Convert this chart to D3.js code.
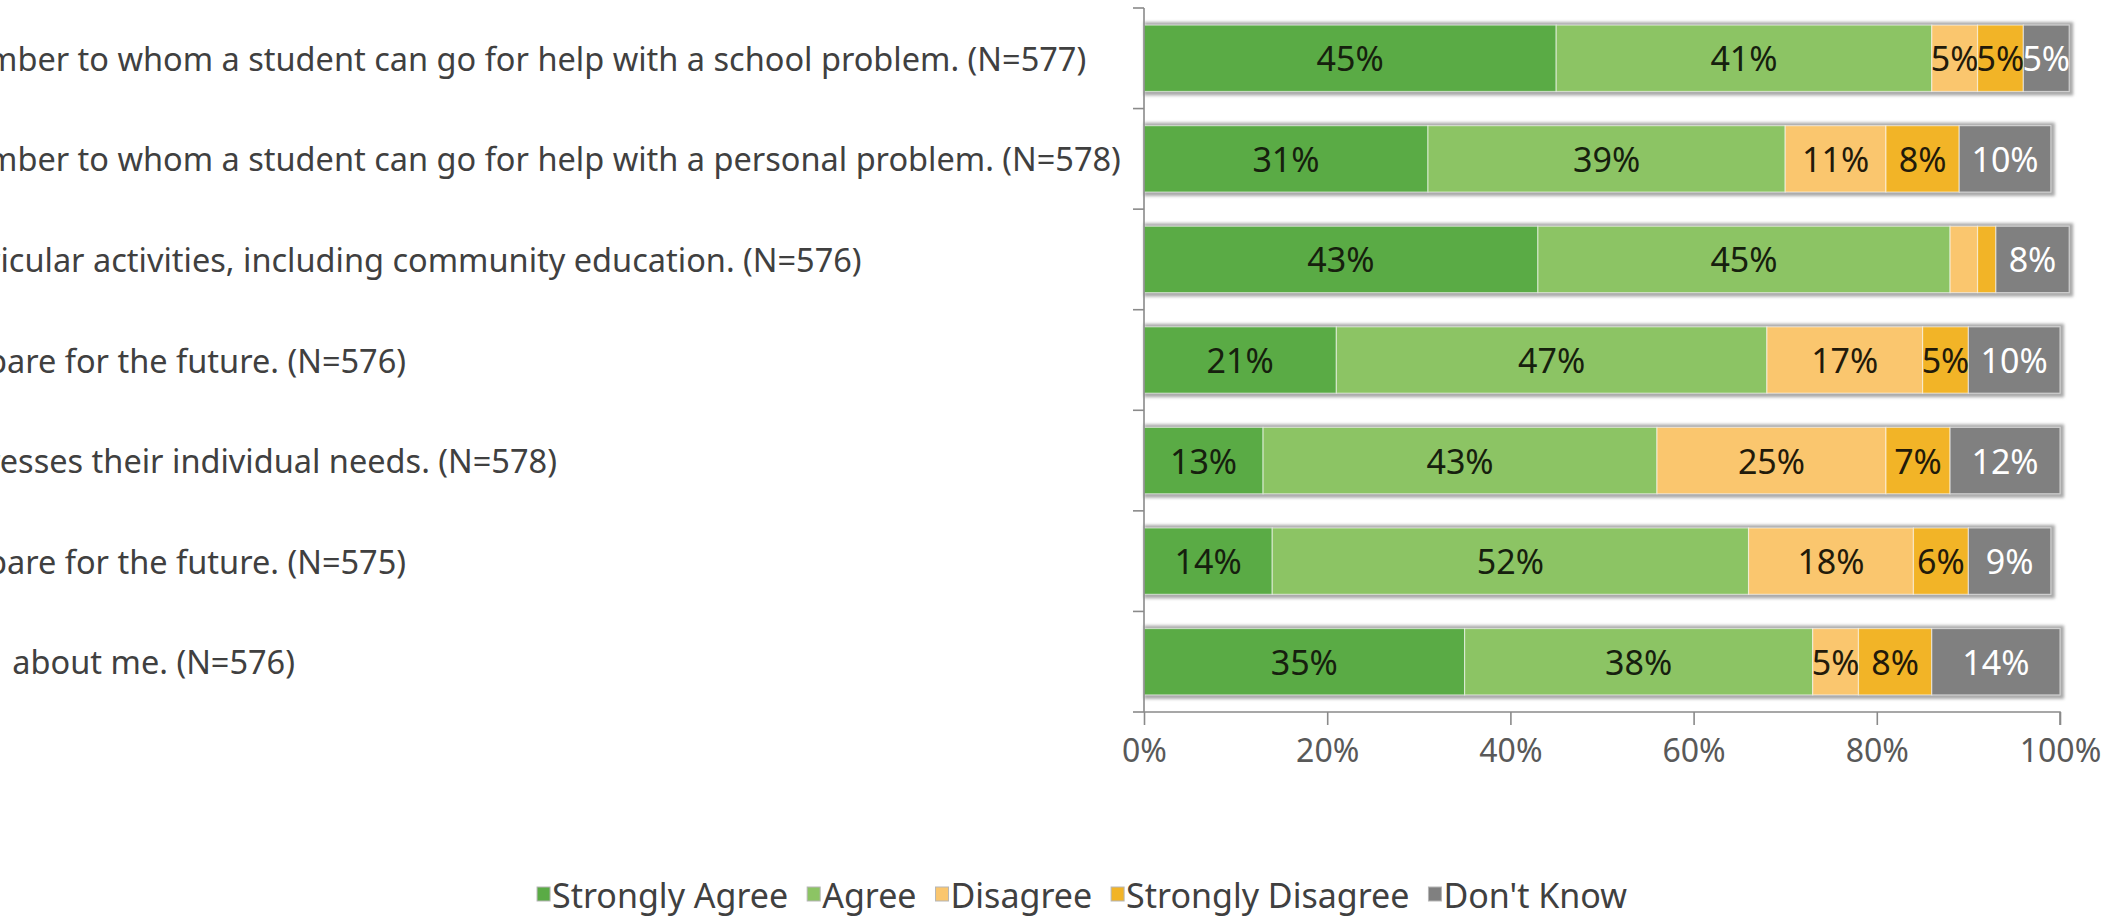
<!DOCTYPE html>
<html>
<head>
<meta charset="utf-8">
<script src="https://cdn.jsdelivr.net/npm/d3@7"></script>
<style>
  body { margin: 0; background: #fff; }
  svg { display: block; font-family: "Noto Sans", "Open Sans", sans-serif; }
</style>
</head>
<body>
<svg id="chart" width="2119" height="917"></svg>
<script>
// survey items (left part of each label is cut off in the original picture)
const categories = [
  "mber to whom a student can go for help with a school problem. (N=577)",
  "mber to whom a student can go for help with a personal problem. (N=578)",
  "ricular activities, including community education. (N=576)",
  "pare for the future. (N=576)",
  "resses their individual needs. (N=578)",
  "pare for the future. (N=575)",
  "   about me. (N=576)"
];
const series = ["Strongly Agree", "Agree", "Disagree", "Strongly Disagree", "Don't Know"];

// percent values, one per category
const stronglyAgree    = [45, 31, 43, 21, 13, 14, 35];
const agree            = [41, 39, 45, 47, 43, 52, 38];
const disagree         = [5, 11, 3, 17, 25, 18, 5];
const stronglyDisagree = [5, 8, 2, 5, 7, 6, 8];
const dontKnow         = [5, 10, 8, 10, 12, 9, 14];

const xTicks = [0, 20, 40, 60, 80, 100];
const colors = ["#5aab45", "#8cc464", "#fac66e", "#f2b427", "#808080"];
const labelColors = ["#16200e", "#16200e", "#221a0a", "#221a0a", "#ffffff"];

const rows = categories.map((c, i) => ({
  cat: c,
  "Strongly Agree": stronglyAgree[i],
  "Agree": agree[i],
  "Disagree": disagree[i],
  "Strongly Disagree": stronglyDisagree[i],
  "Don't Know": dontKnow[i]
}));

const svg = d3.select("#chart");

const x = d3.scaleLinear().domain([0, 100]).range([1144, 2060]);
const y = d3.scaleBand().domain(categories).range([8, 712])
  .paddingInner(0.34).paddingOuter(0.17);

const stacked = d3.stack().keys(series)(rows);

// soft shadow behind every bar
const defs = svg.append("defs");
defs.append("filter").attr("id", "blur")
  .attr("x", "-5%").attr("y", "-20%").attr("width", "110%").attr("height", "140%")
  .append("feGaussianBlur").attr("stdDeviation", 1.6);

svg.append("g").selectAll("rect")
  .data(rows)
  .join("rect")
    .attr("x", x(0))
    .attr("y", d => y(d.cat) - 3)
    .attr("width", d => x(d3.sum(series, k => d[k])) - x(0) + 4)
    .attr("height", y.bandwidth() + 7)
    .attr("fill", "#a9a9a9")
    .attr("filter", "url(#blur)");

// segments
const layer = svg.append("g").selectAll("g")
  .data(stacked)
  .join("g")
    .attr("fill", (d, i) => colors[i]);

layer.selectAll("rect")
  .data(d => d)
  .join("rect")
    .attr("x", d => x(d[0]))
    .attr("y", d => y(d.data.cat))
    .attr("width", d => x(d[1]) - x(d[0]))
    .attr("height", y.bandwidth())
    .attr("stroke", "#ffffff")
    .attr("stroke-opacity", 0.55)
    .attr("stroke-width", 1.2);

// value labels
svg.append("g").selectAll("g")
  .data(stacked)
  .join("g")
    .attr("fill", (d, i) => labelColors[i])
  .selectAll("text")
  .data(d => d.filter(s => s[1] - s[0] >= 4))
  .join("text")
    .attr("x", d => (x(d[0]) + x(d[1])) / 2)
    .attr("y", d => y(d.data.cat) + y.bandwidth() / 2)
    .attr("text-anchor", "middle")
    .attr("dominant-baseline", "central")
    .attr("font-size", 34)
    .text(d => (d[1] - d[0]) + "%");

// category labels, left aligned and cut at the page edge
svg.append("g").selectAll("text")
  .data(categories)
  .join("text")
    .attr("x", -13)
    .attr("y", d => y(d) + y.bandwidth() / 2)
    .attr("dominant-baseline", "central")
    .attr("font-size", 32.5)
    .attr("fill", "#404040")
    .style("white-space", "pre")
    .text(d => d);

// axes
const axisColor = "#8a8a8a";
const yAxis = svg.append("g");
const bounds = categories.map(c => y(c) - y.step() * y.paddingInner() / 2).concat([712]);
yAxis.append("line")
  .attr("x1", x(0)).attr("x2", x(0)).attr("y1", 8).attr("y2", 712)
  .attr("stroke", axisColor).attr("stroke-width", 1.6);
yAxis.selectAll(".tick")
  .data(bounds)
  .join("line")
    .attr("x1", x(0) - 11).attr("x2", x(0))
    .attr("y1", d => d).attr("y2", d => d)
    .attr("stroke", axisColor).attr("stroke-width", 1.6);

const xAxis = svg.append("g")
  .attr("transform", "translate(0,712)")
  .call(d3.axisBottom(x).tickValues(xTicks).tickSize(13).tickPadding(14)
    .tickFormat(d => d + "%"));
xAxis.select(".domain").attr("stroke", axisColor).attr("stroke-width", 1.6)
  .attr("d", `M${x(0)},0H${x(100)}V13`);
xAxis.selectAll(".tick line").attr("stroke", axisColor).attr("stroke-width", 1.6);
xAxis.selectAll(".tick text")
  .attr("font-size", 32)
  .attr("font-family", "\"Noto Sans\", sans-serif")
  .attr("fill", "#595959");

// legend
const legend = svg.append("g");
const items = legend.selectAll("g")
  .data(series)
  .join("g");
items.append("rect")
  .attr("width", 13).attr("height", 14)
  .attr("y", -8)
  .attr("fill", (d, i) => colors[i])
  .attr("stroke", "#b5b5b5").attr("stroke-width", 1);
items.append("text")
  .attr("x", 15)
  .attr("dominant-baseline", "central")
  .attr("font-size", 34)
  .attr("fill", "#404040")
  .text(d => d);

let cursor = 0;
const gap = 19;
items.each(function () {
  const w = 15 + this.querySelector("text").getComputedTextLength();
  d3.select(this).attr("transform", `translate(${cursor},0)`);
  cursor += w + gap;
});
const legendWidth = cursor - gap;
legend.attr("transform", `translate(${1082 - legendWidth / 2},895)`);
</script>
</body>
</html>
